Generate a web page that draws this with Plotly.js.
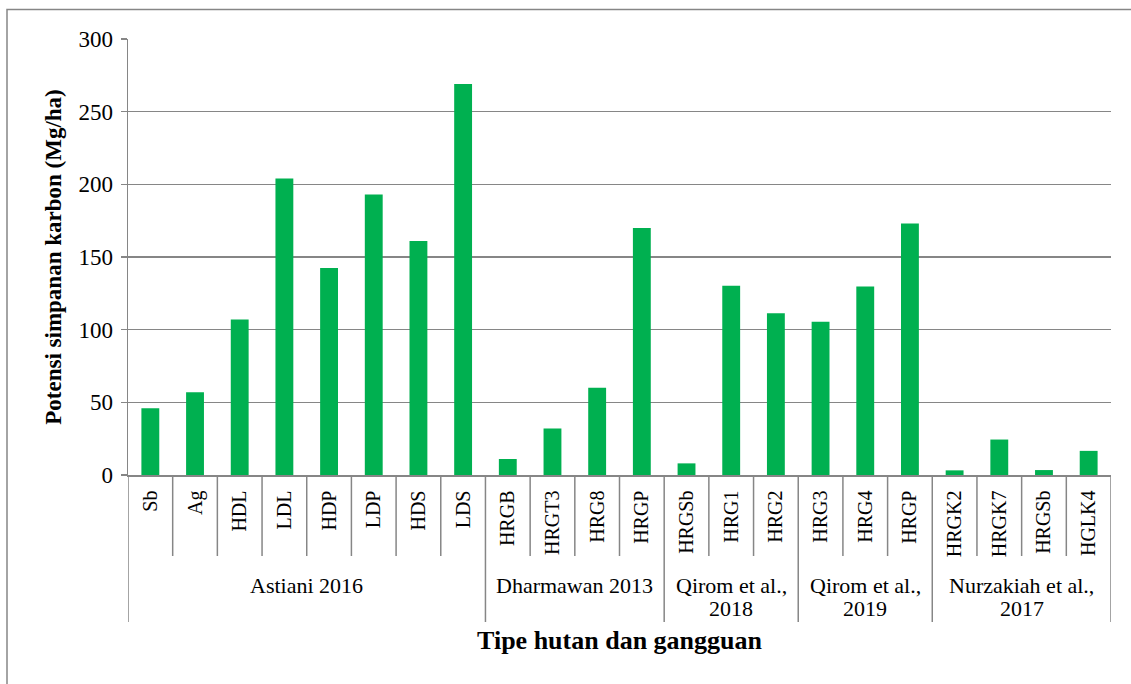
<!DOCTYPE html>
<html>
<head>
<meta charset="utf-8">
<script src="https://cdn.plot.ly/plotly-3.0.1.min.js"></script>
<style>
  html, body { margin: 0; padding: 0; background: #fff; }
  #chart { width: 1131px; height: 684px; }
</style>
</head>
<body>
<div id="chart"></div>
<script>
// ---- data ----
const categories = ["Sb","Ag","HDL","LDL","HDP","LDP","HDS","LDS",
                    "HRGB","HRGT3","HRG8","HRGP",
                    "HRGSb","HRG1","HRG2",
                    "HRG3","HRG4","HRGP",
                    "HRGK2","HRGK7","HRGSb","HGLK4"];
const values = [46, 57, 107, 204, 142.5, 193, 161, 269,
                11, 32, 60, 170,
                8, 130.3, 111.3,
                105.5, 129.7, 173,
                3.2, 24.4, 3.4, 16.6];
const groupNames = ["Astiani 2016", "Dharmawan 2013", "Qirom et al.,<br>2018",
                    "Qirom et al.,<br>2019", "Nurzakiah et al.,<br>2017"];
const groupSizes = [8, 4, 3, 3, 4];
const yTickValues = [0, 50, 100, 150, 200, 250, 300];

// ---- chart ----
const idx = categories.map((_, i) => i);
const FONT = "Liberation Serif";
const GRAY = "#868686";
const PLOT_H = 436, PLOT_BOTTOM = 475;
const pyToPaper = p => (PLOT_BOTTOM - p) / PLOT_H;

const shapes = [];
const annotations = [];
const groupStarts = [];
let acc = 0;
groupSizes.forEach(s => { groupStarts.push(acc); acc += s; });
const boundarySet = new Set(groupStarts.concat([acc]));
for (let b = 0; b <= categories.length; b++) {
  const isGroup = boundarySet.has(b);
  shapes.push({
    type: "line", xref: "x", yref: "paper",
    x0: b - 0.5, x1: b - 0.5, y0: 0, y1: pyToPaper(isGroup ? 622 : 556),
    line: { color: GRAY, width: 1.5 }
  });
}
groupNames.forEach((g, k) => {
  const center = groupStarts[k] + (groupSizes[k] - 1) / 2;
  g.split("<br>").forEach((line, j) => {
    annotations.push({
      xref: "x", yref: "paper", x: center, y: pyToPaper(585 + 23 * j),
      xanchor: "center", yanchor: "middle", showarrow: false,
      text: line, font: { family: FONT, size: 22, color: "#000" }, align: "center"
    });
  });
});
// outer frame (top & left visible)
shapes.push({
  type: "rect", xref: "paper", yref: "paper",
  x0: (7 - 128) / 983, x1: 1.2, y0: -0.7, y1: pyToPaper(9.5),
  line: { color: GRAY, width: 1.5 }, fillcolor: "rgba(0,0,0,0)", layer: "below"
});

const trace = {
  type: "bar", x: idx, y: values,
  marker: { color: "#00B050" },
  hoverinfo: "skip"
};

const layout = {
  width: 1131, height: 684,
  margin: { l: 128, r: 20, t: 39, b: 209 },
  paper_bgcolor: "#fff", plot_bgcolor: "#fff",
  showlegend: false,
  bargap: 0.6,
  font: { family: FONT, color: "#000" },
  xaxis: {
    range: [-0.5, categories.length - 0.5],
    tickmode: "array", tickvals: idx, ticktext: categories,
    tickangle: -90, ticks: "", showgrid: false, zeroline: false,
    showline: true, linecolor: GRAY, linewidth: 1.5,
    tickfont: { family: FONT, size: 20, color: "#000" },
    ticklabelstandoff: 6,
    title: { text: "<b>Tipe hutan dan gangguan</b>", standoff: 74,
             font: { family: FONT, size: 26, color: "#000" } }
  },
  yaxis: {
    range: [0, 300], tickmode: "array", tickvals: yTickValues,
    ticks: "outside", ticklen: 6, tickcolor: GRAY, tickwidth: 1.5,
    showgrid: true, gridcolor: GRAY, gridwidth: 1.5,
    zeroline: false, showline: true, linecolor: GRAY, linewidth: 1.5,
    tickfont: { family: FONT, size: 23, color: "#000" },
    ticklabelstandoff: 3,
    title: { text: "<b>Potensi simpanan karbon (Mg/ha)</b>", standoff: 10,
             font: { family: FONT, size: 23, color: "#000" } }
  },
  shapes: shapes,
  annotations: annotations
};

Plotly.newPlot("chart", [trace], layout, { staticPlot: true, displayModeBar: false });
</script>
</body>
</html>
